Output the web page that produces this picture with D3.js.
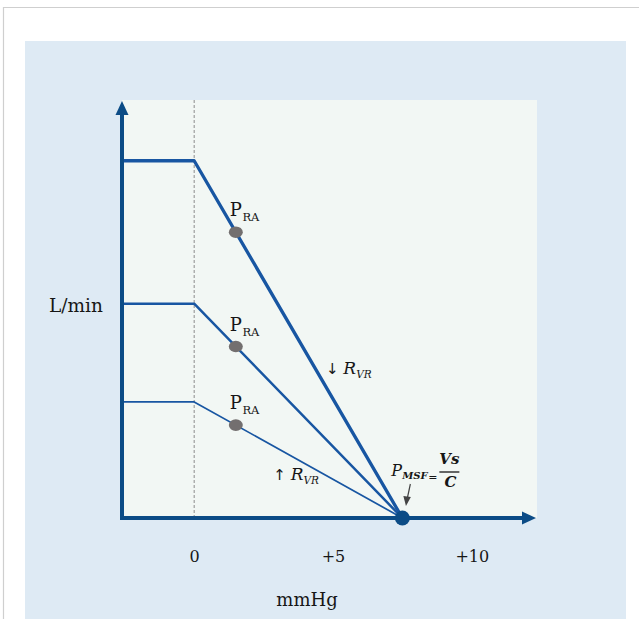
<!DOCTYPE html>
<html>
<head>
<meta charset="utf-8">
<script src="https://cdn.jsdelivr.net/npm/d3@7"></script>
<style>
  html, body { margin: 0; padding: 0; background: #ffffff; }
  svg { display: block; }
</style>
</head>
<body>
<script>
// Venous return curves: flow (L/min) against right atrial pressure (mmHg)
const pressureDomain = [-2.6, 12.35];   // mmHg shown along the x axis
const flowDomain = [0, 11.7];           // L/min shown along the y axis
const curveIds = ["lowResistance", "normal", "highResistance"];
const plateauFlows = [10, 6, 3.25];     // flow plateau for each curve
const msfPressure = 7.5;                // mean systemic filling pressure
const raPressure = 1.5;                 // right atrial pressure marked on each curve
const xTickValues = [0, 5, 10];
const xTickLabels = ["0", "+5", "+10"];

const W = 639, H = 619;
const navy = "#0c4c86", curveBlue = "#1856a2", ink = "#161616";
const serif = "'DejaVu Serif', serif";

const svg = d3.select("body").append("svg")
  .attr("width", W).attr("height", H)
  .attr("viewBox", `0 0 ${W} ${H}`);

// page frame and panel
svg.append("path").attr("d", `M3.5,${H} V7.5 H${W}`)
  .attr("fill", "none").attr("stroke", "#cfcfcf").attr("stroke-width", 1.2);
svg.append("rect").attr("x", 25).attr("y", 41).attr("width", 601).attr("height", H - 41)
  .attr("fill", "#deeaf4");

const x = d3.scaleLinear().domain(pressureDomain).range([122, 537]);
const y = d3.scaleLinear().domain(flowDomain).range([518, 100]);

// plot area
svg.append("rect")
  .attr("x", x.range()[0]).attr("y", y.range()[1])
  .attr("width", x.range()[1] - x.range()[0]).attr("height", y.range()[0] - y.range()[1])
  .attr("fill", "#f2f7f4");

// zero-pressure reference
svg.append("line")
  .attr("x1", x(0)).attr("x2", x(0)).attr("y1", y.range()[1]).attr("y2", y(0))
  .attr("stroke", "#8c8c8c").attr("stroke-width", 1).attr("stroke-dasharray", "3,2");

// curves
const line = d3.line().x(d => x(d[0])).y(d => y(d[1]));
const curveWidths = [3.3, 2.5, 1.7];
const curves = plateauFlows.map((q, i) => ({
  id: curveIds[i],
  q,
  pts: [[pressureDomain[0], q], [0, q], [msfPressure, 0]]
}));
svg.append("g").selectAll("path").data(curves).join("path")
  .attr("d", d => line(d.pts))
  .attr("fill", "none")
  .attr("stroke", curveBlue)
  .attr("stroke-width", (d, i) => curveWidths[i])
  .attr("stroke-linejoin", "round");

// axes with arrowheads
const x0 = x.range()[0], yBase = y(0);
svg.append("line").attr("x1", x0).attr("x2", x0).attr("y1", yBase + 2).attr("y2", y.range()[1] + 12)
  .attr("stroke", navy).attr("stroke-width", 4);
svg.append("path")
  .attr("d", `M${x0},${y.range()[1] + 1} L${x0 - 6.5},${y.range()[1] + 15} L${x0 + 6.5},${y.range()[1] + 15} Z`)
  .attr("fill", navy);
svg.append("line").attr("x1", x0 - 2).attr("x2", x.range()[1] - 12).attr("y1", yBase).attr("y2", yBase)
  .attr("stroke", navy).attr("stroke-width", 4);
svg.append("path")
  .attr("d", `M${x.range()[1] - 1},${yBase} L${x.range()[1] - 15},${yBase - 6.5} L${x.range()[1] - 15},${yBase + 6.5} Z`)
  .attr("fill", navy);

// x tick labels
const xAxis = d3.axisBottom(x)
  .tickValues(xTickValues)
  .tickFormat((d, i) => xTickLabels[i])
  .tickSize(0)
  .tickPadding(0);
const gx = svg.append("g").attr("transform", `translate(0,${yBase})`).call(xAxis);
gx.select(".domain").remove();
gx.selectAll("text")
  .attr("y", 44).attr("dy", null)
  .attr("font-family", serif).attr("font-size", 16)
  .attr("fill", ink);

// axis titles
svg.append("text").attr("x", 307).attr("y", 606).attr("text-anchor", "middle")
  .attr("font-family", serif).attr("font-size", 18).attr("fill", ink)
  .text("mmHg");
svg.append("text").attr("x", 76).attr("y", y(plateauFlows[1]) + 8).attr("text-anchor", "middle")
  .attr("font-family", serif).attr("font-size", 18.5).attr("fill", ink)
  .text("L/min");

// right atrial pressure markers
const flowAt = (q, p) => q * (1 - p / msfPressure);
const pra = svg.append("g").selectAll("g").data(curves).join("g")
  .attr("transform", d => `translate(${x(raPressure)},${y(flowAt(d.q, raPressure))})`);
pra.append("ellipse").attr("rx", 7).attr("ry", 5.8).attr("fill", "#736f6f");
const praText = pra.append("text").attr("x", -6).attr("y", -16)
  .attr("font-family", serif).attr("fill", ink);
praText.append("tspan").attr("font-size", 18).text("P");
praText.append("tspan").attr("font-size", 11.5).attr("dy", 5).attr("dx", 0.5).text("RA");

// resistance annotations
function resistanceLabel(arrow, px, py) {
  const t = svg.append("text").attr("x", px).attr("y", py).attr("fill", ink);
  t.append("tspan").attr("font-family", "'DejaVu Sans', sans-serif").attr("font-size", 15).text(arrow + " ");
  t.append("tspan").attr("font-family", serif).attr("font-style", "italic")
    .attr("font-size", 17).text("R");
  t.append("tspan").attr("font-family", serif).attr("font-style", "italic")
    .attr("font-size", 10.5).attr("dy", 4).text("VR");
}
resistanceLabel("↓", x(4.75), y(4.06) + 1);
resistanceLabel("↑", x(2.85), y(1.09) + 1);

// mean systemic filling pressure
const px = x(msfPressure), py = y(0);
const f = svg.append("g").attr("font-family", serif).attr("fill", ink);
const pm = f.append("text").attr("x", px - 11).attr("y", py - 42).attr("font-style", "italic");
pm.append("tspan").attr("font-size", 16).text("P");
pm.append("tspan").attr("font-size", 10).attr("font-weight", "bold").attr("dy", 3).text("MSF");
f.append("text").attr("x", px + 26).attr("y", py - 37).attr("font-size", 11).text("=");
f.append("text").attr("x", px + 47).attr("y", py - 54).attr("text-anchor", "middle")
  .attr("font-style", "italic").attr("font-weight", "bold").attr("font-size", 15).text("Vs");
f.append("line").attr("x1", px + 37).attr("x2", px + 57).attr("y1", py - 46).attr("y2", py - 46)
  .attr("stroke", ink).attr("stroke-width", 1.3);
f.append("text").attr("x", px + 48).attr("y", py - 31).attr("text-anchor", "middle")
  .attr("font-style", "italic").attr("font-weight", "bold").attr("font-size", 15).text("C");

// pointer to the zero-flow intercept
svg.append("line").attr("x1", px + 8).attr("y1", py - 34).attr("x2", px + 5).attr("y2", py - 20)
  .attr("stroke", "#444").attr("stroke-width", 1.2);
svg.append("path").attr("d", `M${px + 3.6},${py - 12} L${px + 1},${py - 22} L${px + 8.5},${py - 21} Z`)
  .attr("fill", "#444");

svg.append("circle").attr("cx", px).attr("cy", py).attr("r", 7.5).attr("fill", navy);
</script>
</body>
</html>
